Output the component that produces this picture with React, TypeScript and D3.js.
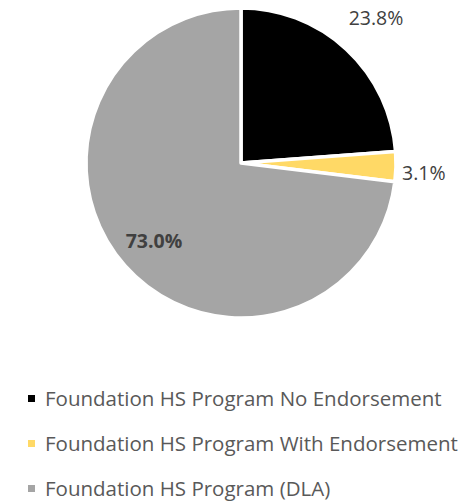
import React from "react";
import * as d3 from "d3";

const categories = [
  "Foundation HS Program No Endorsement",
  "Foundation HS Program With Endorsement",
  "Foundation HS Program (DLA)",
];
const values = [23.8, 3.1, 73.0];
const labels = ["23.8%", "3.1%", "73.0%"];
const colors = ["#000000", "#FFD966", "#A5A5A5"];

const W = 476;
const H = 502;
const cx = 241;
const cy = 163;
const R = 155;
const FONT = "'Open Sans', sans-serif";

// distance of each value label from the pie centre, as a share of the radius
const labelRadius = [1.28, 1.18, 0.75];

export default function App() {
  const pie = d3
    .pie<number>()
    .sort(null)
    .value((d) => d);
  const arcs = pie(values);
  const arcGen = d3.arc<d3.PieArcDatum<number>>().innerRadius(0).outerRadius(R);

  const labelPos = arcs.map((a, i) => {
    const r = R * labelRadius[i];
    return d3.arc<d3.PieArcDatum<number>>().innerRadius(r).outerRadius(r).centroid(a);
  });

  return (
    <svg width={W} height={H} style={{ position: "absolute", left: 0, top: 0 }}>
      <rect width={W} height={H} fill="#ffffff" />
      <g transform={`translate(${cx},${cy})`}>
        {arcs.map((a, i) => (
          <path key={i} d={arcGen(a) || ""} fill={colors[i]} stroke="#ffffff" strokeWidth={3.5} strokeLinejoin="round" />
        ))}
        {arcs.map((a, i) => (
          <text
            key={"l" + i}
            x={labelPos[i][0]}
            y={labelPos[i][1] + (i === 1 ? 5 : 0)}
            textAnchor="middle"
            dominantBaseline="central"
            fontFamily={FONT}
            fontSize={19.5}
            fontWeight={i === 2 ? "bold" : "normal"}
            fill="#404040"
          >
            {labels[i]}
          </text>
        ))}
      </g>
      <g>
        {categories.map((c, i) => (
          <g key={c} transform={`translate(28,${406 + i * 45})`}>
            <rect x={0} y={-11} width={7} height={7} fill={colors[i]} />
            <text x={17} y={0} fontFamily={FONT} fontSize={20.5} fill="#595959">
              {c}
            </text>
          </g>
        ))}
      </g>
    </svg>
  );
}
